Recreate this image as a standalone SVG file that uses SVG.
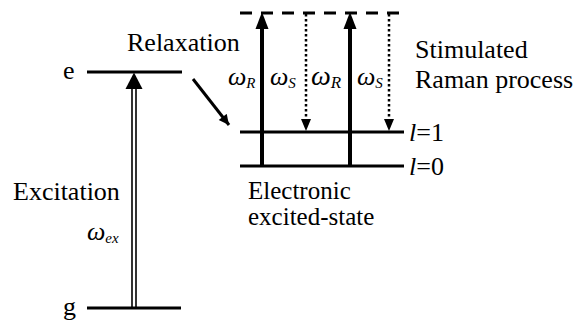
<svg xmlns="http://www.w3.org/2000/svg" width="583" height="324" viewBox="0 0 583 324">
<style>
text{font-family:"Liberation Serif",Tinos,"Times New Roman","DejaVu Serif","Noto Serif",serif;fill:#000}
.t{font-size:26px}
.s{font-size:25px}
.w{font-size:26px;font-style:italic}
.sub{font-size:15px;font-style:italic}
.lvl{stroke:#000;stroke-width:3;fill:none}
.thick{stroke:#000;stroke-width:4;fill:none}
.dot{stroke:#000;stroke-width:2.5;stroke-dasharray:2.5 2.5;fill:none}
</style>
<defs>
<marker id="ah" viewBox="0 0 10 10" refX="10" refY="5" markerWidth="4" markerHeight="3.4" orient="auto" markerUnits="strokeWidth"><path d="M0,0 L10,5 L0,10 z" fill="#000"/></marker>
</defs>
<g id="level-e"><line class="lvl" x1="87" y1="72" x2="182" y2="72"/><text class="t" x="63" y="79">e</text></g>
<g id="level-g"><line class="lvl" x1="87" y1="308" x2="181" y2="308"/><text class="t" x="63" y="315">g</text></g>
<g id="level-virtual"><line x1="240" y1="13" x2="408" y2="13" stroke="#000" stroke-width="3" stroke-dasharray="12 9"/></g>
<g id="level-l1"><line class="lvl" x1="240" y1="132" x2="404" y2="132"/><text x="409" y="141" style="font-size:26px"><tspan font-style="italic">l</tspan>=1</text></g>
<g id="level-l0"><line class="lvl" x1="240" y1="166" x2="404" y2="166"/><text x="409" y="175" style="font-size:26px"><tspan font-style="italic">l</tspan>=0</text></g>
<g id="labels">
<text class="t" x="127" y="51">Relaxation</text>
<text class="t" x="13" y="200">Excitation</text>
<text class="t" x="415" y="58">Stimulated</text>
<text class="t" x="415" y="88">Raman process</text>
<text class="s" x="248" y="199">Electronic</text>
<text class="s" x="248" y="225">excited-state</text>
<text class="w" x="87" y="240">ω<tspan class="sub" dy="3">ex</tspan></text>
<text class="w" x="228" y="85">ω<tspan class="sub" dy="3">R</tspan></text>
<text class="w" x="270" y="85">ω<tspan class="sub" dy="3">S</tspan></text>
<text class="w" x="311" y="85" style="font-size:28px">ω<tspan class="sub" dy="3" style="font-size:17px">R</tspan></text>
<text class="w" x="357" y="85">ω<tspan class="sub" dy="3">S</tspan></text>
</g>
<g id="connectors">
<line x1="132" y1="308" x2="132" y2="88" stroke="#000" stroke-width="1.6"/>
<line x1="136" y1="308" x2="136" y2="88" stroke="#000" stroke-width="1.6"/>
<path d="M125.5,89 L134,72.5 L142.5,89 z" fill="#000"/>
<line x1="193" y1="79" x2="229" y2="125" stroke="#000" stroke-width="3" marker-end="url(#ah)"/>
<line x1="262" y1="166" x2="262" y2="28" class="thick"/>
<path d="M255.5,29 L262,12 L268.5,29 z" fill="#000"/>
<line x1="350" y1="166" x2="350" y2="28" class="thick"/>
<path d="M343.5,29 L350,12 L356.5,29 z" fill="#000"/>
<line x1="306" y1="14" x2="306" y2="120" class="dot"/>
<path d="M301,119 L306,131 L311,119 z" fill="#000"/>
<line x1="389" y1="14" x2="389" y2="120" class="dot"/>
<path d="M384,119 L389,131 L394,119 z" fill="#000"/>
</g>
</svg>
